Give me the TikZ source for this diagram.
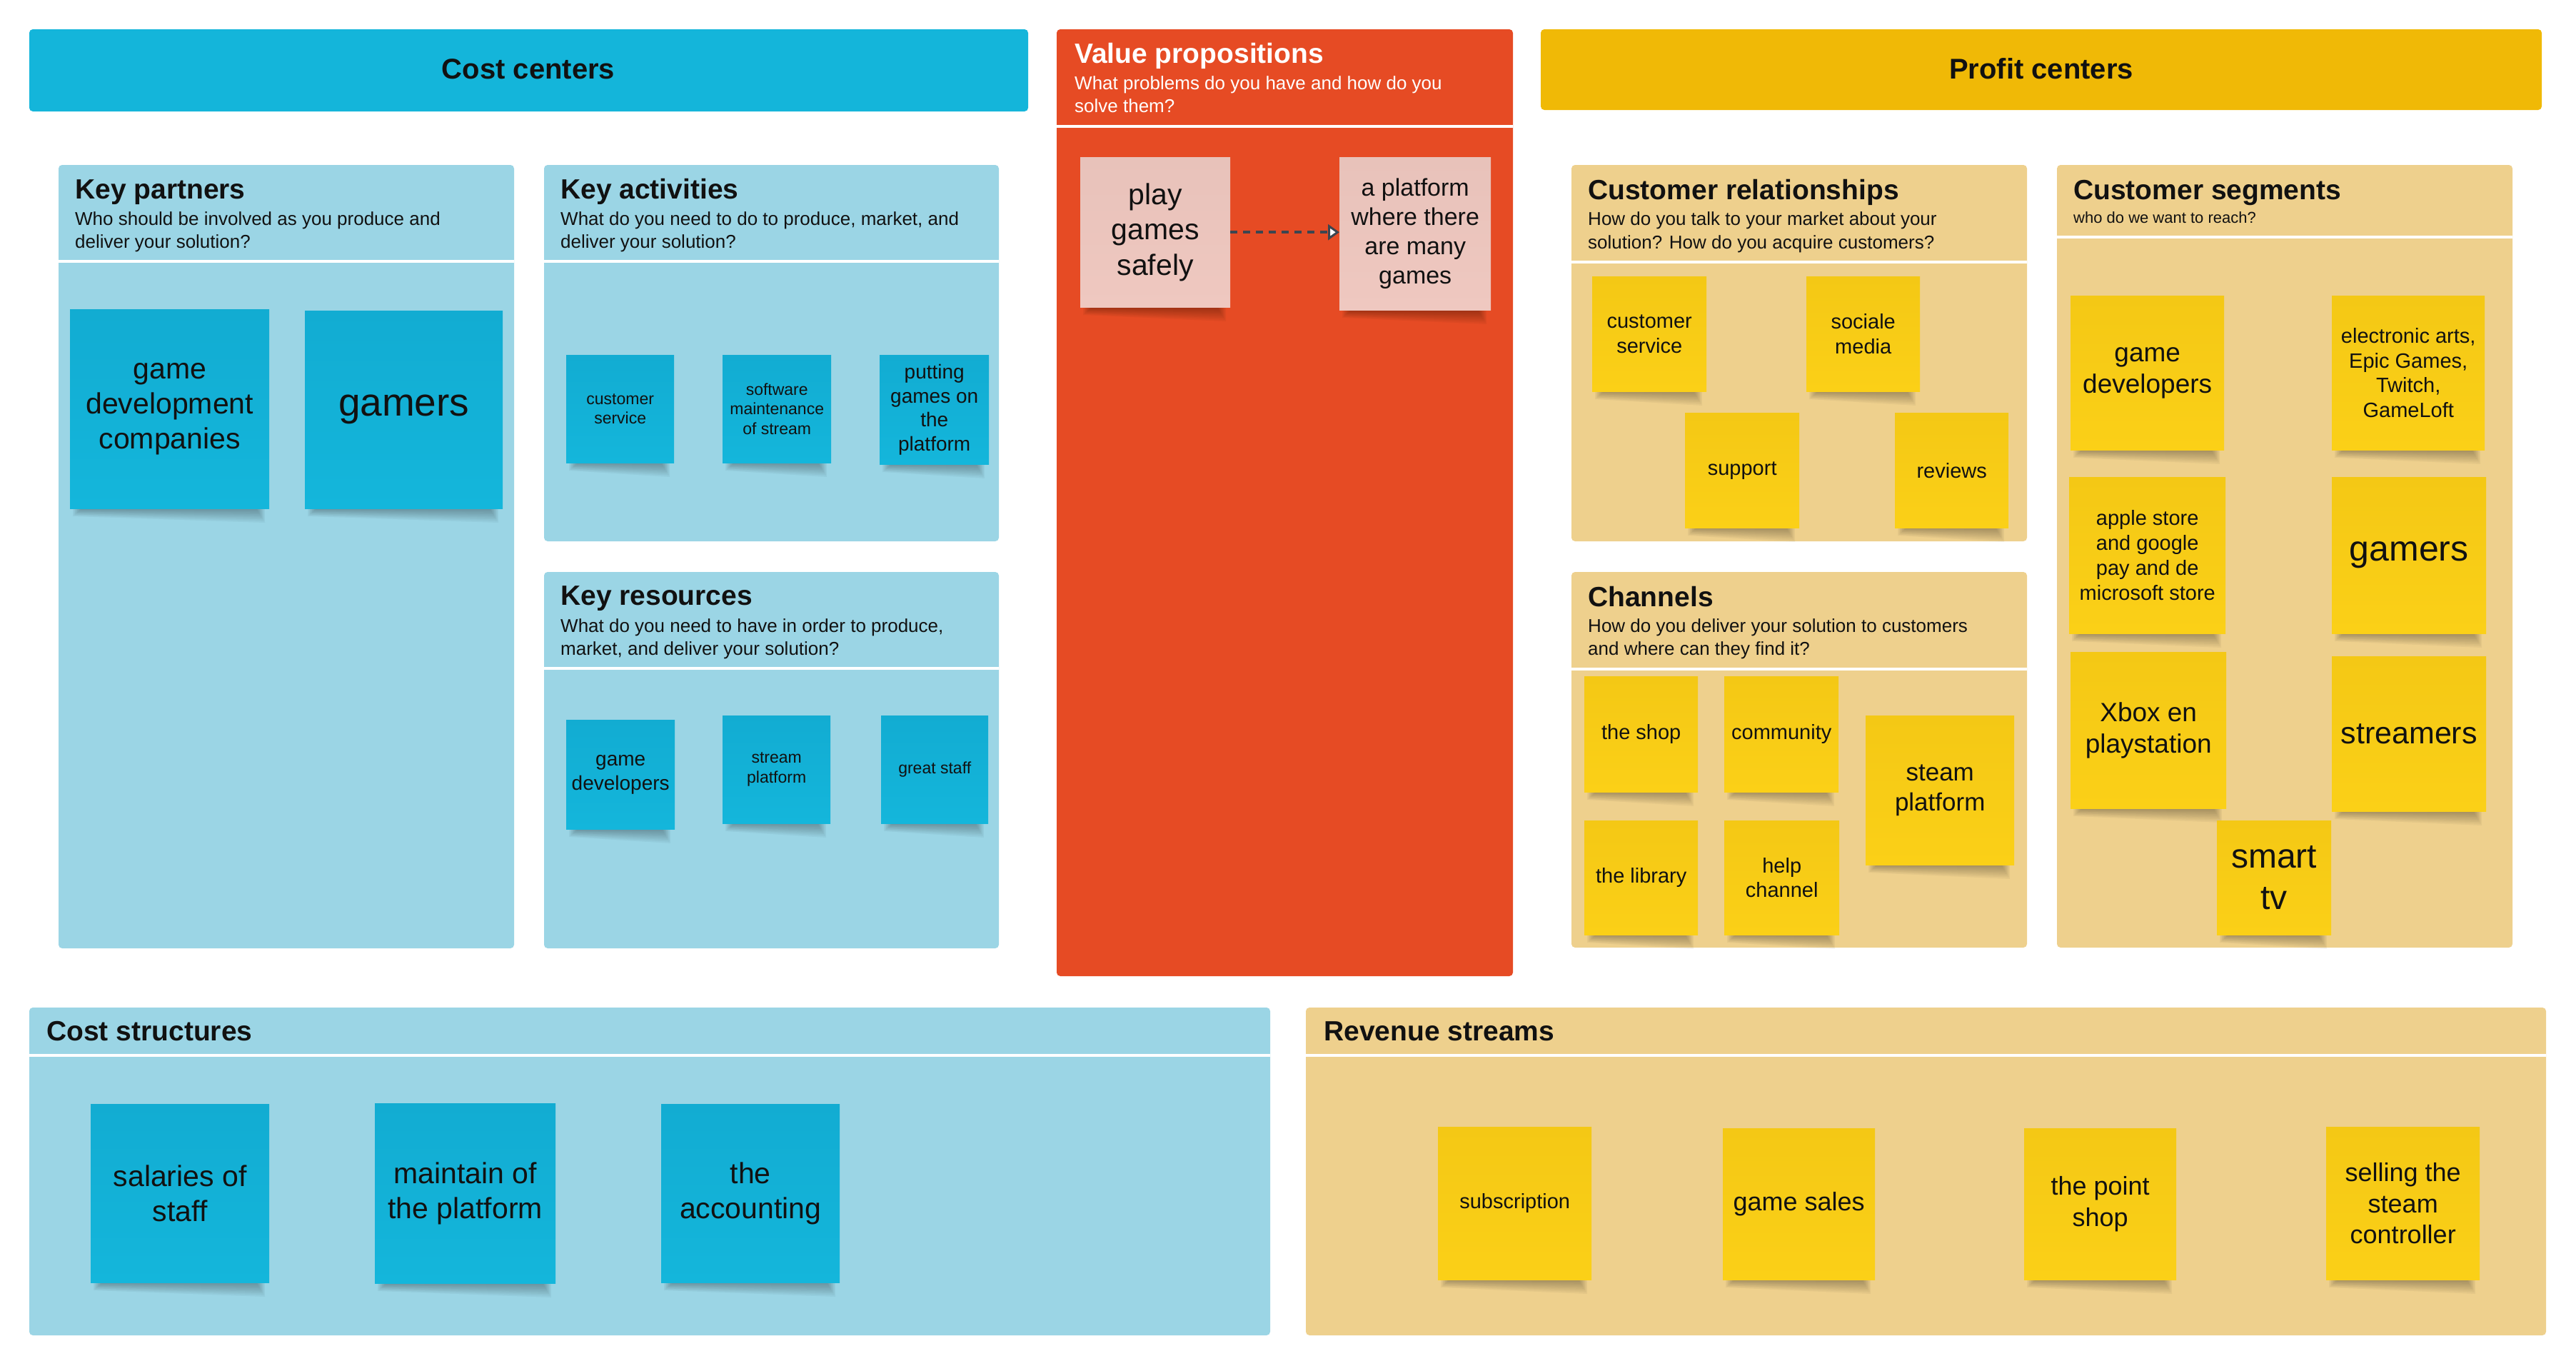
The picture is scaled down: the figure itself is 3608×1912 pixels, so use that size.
\documentclass[tikz,border=0pt]{standalone}
\usepackage{fontspec}
\setmainfont{Liberation Sans}
\usetikzlibrary{arrows.meta}
\definecolor{headBlue}{HTML}{14B5DA}
\definecolor{panelBlue}{HTML}{9BD5E5}
\definecolor{stBlueTop}{HTML}{12ACD2}
\definecolor{stBlueBot}{HTML}{14B6DB}
\definecolor{vpRed}{HTML}{E64B24}
\definecolor{stPinkTop}{HTML}{E8C2BA}
\definecolor{stPinkBot}{HTML}{EFC8C0}
\definecolor{headGold}{HTML}{F0B906}
\definecolor{panelGold}{HTML}{EED08D}
\definecolor{stYelTop}{HTML}{F4C815}
\definecolor{stYelBot}{HTML}{FBD017}
\definecolor{ink}{HTML}{111111}
\definecolor{arrowGray}{HTML}{3C4550}
\tikzset{
  panelbox/.style={rounded corners=5pt},
  sepline/.style={white,line width=3.5pt},
  titletext/.style={anchor=base west,inner sep=0pt,text=ink,font=\bfseries\fontsize{39}{47}\selectfont},
  subtext/.style={anchor=base west,inner sep=0pt,text=ink,font=\fontsize{26}{31}\selectfont},
  smallsub/.style={anchor=base west,inner sep=0pt,text=ink,font=\fontsize{22}{26}\selectfont},
  headtext/.style={anchor=base,inner sep=0pt,text=ink,font=\bfseries\fontsize{40}{48}\selectfont},
  stickynode/.style={anchor=north west,inner sep=0pt,align=center,text=ink},
  blueSt/.style={top color=stBlueTop,bottom color=stBlueBot},
  pinkSt/.style={top color=stPinkTop,bottom color=stPinkBot},
  yelSt/.style={top color=stYelTop,bottom color=stYelBot},
  dasharrow/.style={arrowGray,line width=4pt,dash pattern=on 10pt off 8pt,
    -{Triangle[fill=white,length=16pt,width=22pt,line width=3pt]}}
}
\newcommand\sticky[8]{%
  \foreach \k in {0,...,7}{%
    \fill[black,opacity=0.04] ({#2+4+1.5*\k},{#5-4}) -- ({#4-6-1.5*\k},{#5-4})
      -- ({#4-6-1.5*\k},{#5+20-2.4*\k}) -- ({#2+4+1.5*\k},{#5+11-1.3*\k}) -- cycle;}
  \node[stickynode,#6,minimum width={(#4)-(#2)},minimum height={(#5)-(#3)},
        font=\fontsize{#7}{\fpeval{1.2*#7}}\selectfont] (#1) at ({#2},{#3}) {#8};}
\begin{document}
\begin{tikzpicture}[x=1pt,y=-1pt]
\useasboundingbox[fill=white] (0,0) rectangle (3608,1912);

% headers
\fill[headBlue,panelbox] (41,41) rectangle (1440,156);
\node[headtext] (costH) at (740,110) {Cost centers};
\fill[headGold,panelbox] (2158,41) rectangle (3560,154);
\node[headtext] (profitH) at (2859,110) {Profit centers};

% value propositions
\fill[vpRed,panelbox] (1480,41) rectangle (2119,1367);
\draw[sepline] (1480,177) -- (2119,177);
\node[titletext,text=white] (vpT) at (1505,88) {Value propositions};
\node[subtext,text=white] (vpS1) at (1505,125) {What problems do you have and how do you};
\node[subtext,text=white] (vpS2) at (1505,157) {solve them?};

% key partners
\fill[panelBlue,panelbox] (82,231) rectangle (720,1328);
\draw[sepline] (82,366) -- (720,366);
\node[titletext] (kpT) at (105,278) {Key partners};
\node[subtext] (kpS1) at (105,315) {Who should be involved as you produce and};
\node[subtext] (kpS2) at (105,347) {deliver your solution?};

% key activities
\fill[panelBlue,panelbox] (762,231) rectangle (1399,758);
\draw[sepline] (762,366) -- (1399,366);
\node[titletext] (kaT) at (785,278) {Key activities};
\node[subtext] (kaS1) at (785,315) {What do you need to do to produce, market, and};
\node[subtext] (kaS2) at (785,347) {deliver your solution?};

% key resources
\fill[panelBlue,panelbox] (762,801) rectangle (1399,1328);
\draw[sepline] (762,936) -- (1399,936);
\node[titletext] (krT) at (785,847) {Key resources};
\node[subtext] (krS1) at (785,885) {What do you need to have in order to produce,};
\node[subtext] (krS2) at (785,917) {market, and deliver your solution?};

% customer relationships
\fill[panelGold,panelbox] (2201,231) rectangle (2839,758);
\draw[sepline] (2201,367) -- (2839,367);
\node[titletext] (crT) at (2224,279) {Customer relationships};
\node[subtext] (crS1) at (2224,315) {How do you talk to your market about your};
\node[subtext] (crS2) at (2224,348) {solution? How do you acquire customers?};

% channels
\fill[panelGold,panelbox] (2201,801) rectangle (2839,1327);
\draw[sepline] (2201,937) -- (2839,937);
\node[titletext] (chT) at (2224,849) {Channels};
\node[subtext] (chS1) at (2224,885) {How do you deliver your solution to customers};
\node[subtext] (chS2) at (2224,917) {and where can they find it?};

% customer segments
\fill[panelGold,panelbox] (2881,231) rectangle (3519,1327);
\draw[sepline] (2881,332) -- (3519,332);
\node[titletext] (sgT) at (2904,279) {Customer segments};
\node[smallsub] (sgS) at (2904,312) {who do we want to reach?};

% cost structures
\fill[panelBlue,panelbox] (41,1411) rectangle (1779,1870);
\draw[sepline] (41,1478) -- (1779,1478);
\node[titletext] (csT) at (65,1457) {Cost structures};

% revenue streams
\fill[panelGold,panelbox] (1829,1411) rectangle (3566,1870);
\draw[sepline] (1829,1478) -- (3566,1478);
\node[titletext] (rsT) at (1854,1457) {Revenue streams};

% stickies: blue
\sticky{kp1}{98}{433}{377}{712}{blueSt}{41}{game\\development\\companies}
\sticky{kp2}{427}{435}{704}{712}{blueSt}{55}{gamers}
\sticky{ka1}{793}{497}{944}{648}{blueSt}{23}{customer\\service}
\sticky{ka2}{1012}{497}{1164}{648}{blueSt}{23}{software\\maintenance\\of stream}
\sticky{ka3}{1232}{497}{1385}{650}{blueSt}{28}{putting\\games on\\the\\platform}
\sticky{kr1}{793}{1008}{945}{1161}{blueSt}{28}{game\\developers}
\sticky{kr2}{1012}{1002}{1163}{1153}{blueSt}{23}{stream\\platform}
\sticky{kr3}{1234}{1002}{1384}{1153}{blueSt}{23}{great staff}
\sticky{cs1}{127}{1546}{377}{1796}{blueSt}{41}{salaries of\\staff}
\sticky{cs2}{525}{1545}{778}{1797}{blueSt}{41}{maintain of\\the platform}
\sticky{cs3}{926}{1546}{1176}{1796}{blueSt}{41}{the\\accounting}

% stickies: pink
\sticky{vp1}{1513}{220}{1723}{430}{pinkSt}{41}{play\\games\\safely}
\sticky{vp2}{1876}{220}{2088}{434}{pinkSt}{34}{a platform\\where there\\are many\\games}

% stickies: yellow
\sticky{cr1}{2230}{387}{2390}{548}{yelSt}{29}{customer\\service}
\sticky{cr2}{2530}{387}{2689}{548}{yelSt}{29}{sociale\\media}
\sticky{cr3}{2360}{578}{2520}{739}{yelSt}{29}{support}
\sticky{cr4}{2654}{578}{2813}{739}{yelSt}{29}{reviews}
\sticky{ch1}{2219}{947}{2378}{1109}{yelSt}{29}{the shop}
\sticky{ch2}{2415}{947}{2575}{1109}{yelSt}{29}{community}
\sticky{ch3}{2613}{1002}{2821}{1211}{yelSt}{35}{steam\\platform}
\sticky{ch4}{2219}{1149}{2378}{1309}{yelSt}{29}{the library}
\sticky{ch5}{2415}{1149}{2576}{1309}{yelSt}{29}{help\\channel}
\sticky{sg1}{2900}{414}{3115}{630}{yelSt}{37}{game\\developers}
\sticky{sg2}{3266}{414}{3480}{630}{yelSt}{29}{electronic arts,\\Epic Games,\\Twitch,\\GameLoft}
\sticky{sg3}{2898}{668}{3117}{887}{yelSt}{29}{apple store\\and google\\pay and de\\microsoft store}
\sticky{sg4}{3266}{668}{3482}{887}{yelSt}{50}{gamers}
\sticky{sg5}{2900}{913}{3118}{1132}{yelSt}{37}{Xbox en\\playstation}
\sticky{sg6}{3266}{919}{3482}{1136}{yelSt}{43}{streamers}
\sticky{sg7}{3105}{1149}{3265}{1309}{yelSt}{48}{smart\\tv}
\sticky{rs1}{2014}{1578}{2229}{1792}{yelSt}{29}{subscription}
\sticky{rs2}{2413}{1580}{2626}{1792}{yelSt}{36}{game sales}
\sticky{rs3}{2835}{1580}{3048}{1792}{yelSt}{36}{the point\\shop}
\sticky{rs4}{3258}{1578}{3473}{1792}{yelSt}{36}{selling the\\steam\\controller}

% connector
\draw[dasharrow] (vp1.east) -- (vp1.east -| vp2.west);
\end{tikzpicture}
\end{document}
